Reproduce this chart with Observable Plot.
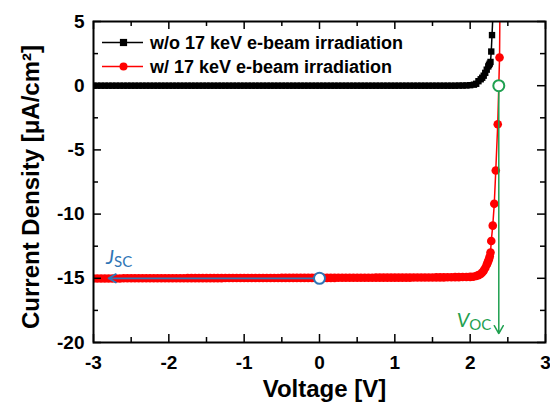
<!DOCTYPE html>
<html><head><meta charset="utf-8">
<script src="https://cdn.jsdelivr.net/npm/d3@7"></script>
<script src="https://cdn.jsdelivr.net/npm/@observablehq/plot@0.6"></script>
<style>body{margin:0;background:#fff} svg{display:block}</style>
</head><body><div id="chart"></div>
<script>
// ---- data ----
const sweepV = [
 -3,-2.95,-2.9,-2.85,-2.8,-2.75,-2.7,-2.65,-2.6,-2.55,
 -2.5,-2.45,-2.4,-2.35,-2.3,-2.25,-2.2,-2.15,-2.1,-2.05,
 -2,-1.95,-1.9,-1.85,-1.8,-1.75,-1.7,-1.65,-1.6,-1.55,
 -1.5,-1.45,-1.4,-1.35,-1.3,-1.25,-1.2,-1.15,-1.1,-1.05,
 -1,-0.95,-0.9,-0.85,-0.8,-0.75,-0.7,-0.65,-0.6,-0.55,
 -0.5,-0.45,-0.4,-0.35,-0.3,-0.25,-0.2,-0.15,-0.1,-0.05,
 0,0.05,0.1,0.15,0.2,0.25,0.3,0.35,0.4,0.45,
 0.5,0.55,0.6,0.65,0.7,0.75,0.8,0.85,0.9,0.95,
 1,1.05,1.1,1.15,1.2,1.25,1.3,1.35,1.4,1.45,
 1.5,1.55,1.6,1.65,1.7,1.75,1.8,1.85,1.9,1.95,
 2
];
const blackFlatJ = [
 0,0,0,0,0,0,0,0,0,0,
 0,0,0,0,0,0,0,0,0,0,
 0,0,0,0,0,0,0,0,0,0,
 0,0,0,0,0,0,0,0,0,0,
 0,0,0,0,0,0,0,0,0,0,
 0,0,0,0,0,0,0,0,0,0,
 0,0,0,0,0,0,0,0,0,0,
 0,0,0,0,0,0,0,0,0,0,
 0,0,0,0,0,0,0,0,0,0,
 0,0,0,0,0,0,0,0.01,0.01,0.02,
 0.04
];
const redFlatJ = [
 -15.02,-15.02,-15.02,-15.01,-15.01,-15.01,-15.01,-15.01,-15.0,-15.0,
 -15.0,-15.0,-15.0,-15.0,-15.0,-15.0,-15.0,-15.0,-15.0,-15.0,
 -15.0,-15.0,-15.0,-15.0,-15.0,-14.99,-14.99,-14.99,-14.99,-14.99,
 -14.99,-14.99,-14.99,-14.99,-14.99,-14.98,-14.98,-14.98,-14.98,-14.98,
 -14.98,-14.98,-14.98,-14.98,-14.98,-14.98,-14.98,-14.98,-14.98,-14.98,
 -14.97,-14.97,-14.97,-14.97,-14.97,-14.97,-14.97,-14.97,-14.97,-14.97,
 -14.97,-14.97,-14.97,-14.97,-14.97,-14.96,-14.96,-14.96,-14.96,-14.96,
 -14.96,-14.96,-14.96,-14.96,-14.96,-14.95,-14.95,-14.95,-14.95,-14.95,
 -14.95,-14.95,-14.95,-14.95,-14.95,-14.94,-14.94,-14.94,-14.94,-14.94,
 -14.94,-14.93,-14.93,-14.93,-14.92,-14.92,-14.91,-14.91,-14.9,-14.9,
 -14.89
];
const blackKneeV = [2.05,2.08,2.11,2.14,2.16,2.18,2.20,2.22,2.24,2.25,2.26,2.27,2.28,2.29,2.31];
const blackKneeJ = [0.08,0.15,0.35,0.5,0.62,0.78,1.0,1.25,1.5,1.62,1.72,1.85,2.66,3.94,6.5];
const redKneeV = [2.04,2.08,2.11,2.14,2.16,2.18,2.20,2.22,2.23,2.24,2.25,2.26,2.27,2.28,2.30,2.32,2.34,2.366,2.38,2.39,2.395];
const redKneeJ = [-14.88,-14.82,-14.75,-14.67,-14.55,-14.4,-14.2,-13.95,-13.8,-13.65,-13.5,-13.3,-13.0,-12.1,-10.9,-9.2,-6.6,-3.0,0.0,2.2,6.0];

const seriesNames = ["w/o 17 keV e-beam irradiation", "w/ 17 keV e-beam irradiation"];
const vocV = 2.38, vocJ = 0, vocArrowJ = -19.3;
const jscV = 0, jscJ = -15, jscArrowV = -2.8;

const xMajor = [-3,-2,-1,0,1,2,3];
const xMinor = [-2.5,-1.5,-0.5,0.5,1.5,2.5];
const yMajor = [-20,-15,-10,-5,0,5];
const yMinor = [-17.5,-12.5,-7.5,-2.5,2.5];

// ---- build tables ----
const black = sweepV.map((v,i)=>({v, j: blackFlatJ[i]})).concat(blackKneeV.map((v,i)=>({v, j: blackKneeJ[i]})));
const red = sweepV.map((v,i)=>({v, j: redFlatJ[i]})).concat(redKneeV.map((v,i)=>({v, j: redKneeJ[i]})));

const W=550, H=410, mL=93, mR=5, mT=21, mB=68;
const pH = H-mT-mB, pW = W-mL-mR;
const font = "'Liberation Sans', Arial, sans-serif";
const RED = "#ff0000", GREEN = "#1fa050", BLUE = "#2e75b6";

const plot = Plot.plot({
  width: W, height: H,
  marginLeft: mL, marginRight: mR, marginTop: mT, marginBottom: mB,
  style: {fontFamily: font, background: "white", color: "black"},
  x: {domain: [-3, 3]},
  y: {domain: [-20, 5]},
  marks: [
    Plot.line(black, {x: "v", y: "j", stroke: "black", strokeWidth: 1.5, clip: true}),
    Plot.dot(black, {x: "v", y: "j", symbol: "square", r: 3.6, fill: "black", clip: true}),
    Plot.line(red, {x: "v", y: "j", stroke: RED, strokeWidth: 1.5, clip: true}),
    Plot.dot(red, {x: "v", y: "j", r: 4.3, fill: RED, clip: true}),
    Plot.arrow([{v: vocV, j: vocJ, e: vocArrowJ}], {x1: "v", y1: "j", x2: "v", y2: "e", stroke: GREEN, strokeWidth: 1.5, insetStart: 5, headLength: 9}),
    Plot.dot([{v: vocV, j: vocJ}], {x: "v", y: "j", r: 5.5, stroke: GREEN, strokeWidth: 2, fill: "white"}),
    Plot.arrow([{v: jscV, j: jscJ, e: jscArrowV}], {x1: "v", y1: "j", x2: "e", y2: "j", stroke: BLUE, strokeWidth: 1.8, insetStart: 5, headLength: 7}),
    Plot.dot([{v: jscV, j: jscJ}], {x: "v", y: "j", r: 5.5, stroke: BLUE, strokeWidth: 2, fill: "white"}),
    // inward ticks
    Plot.tickX(xMajor, {x: d=>d, insetTop: pH-8, stroke: "black", strokeWidth: 1.5}),
    Plot.tickX(xMinor, {x: d=>d, insetTop: pH-5, stroke: "black", strokeWidth: 1.5}),
    Plot.tickX(xMajor, {x: d=>d, insetBottom: pH-8, stroke: "black", strokeWidth: 1.5}),
    Plot.tickX(xMinor, {x: d=>d, insetBottom: pH-5, stroke: "black", strokeWidth: 1.5}),
    Plot.tickY(yMajor, {y: d=>d, insetRight: pW-8, stroke: "black", strokeWidth: 1.5}),
    Plot.tickY(yMinor, {y: d=>d, insetRight: pW-5, stroke: "black", strokeWidth: 1.5}),
    Plot.tickY(yMajor, {y: d=>d, insetLeft: pW-8, stroke: "black", strokeWidth: 1.5}),
    Plot.tickY(yMinor, {y: d=>d, insetLeft: pW-5, stroke: "black", strokeWidth: 1.5}),
    Plot.frame({stroke: "black", strokeWidth: 2}),
    Plot.axisX(xMajor, {tickSize: 0, tickPadding: 13, fontSize: 19, fontWeight: "bold", label: null, tickFormat: d=>String(d)}),
    Plot.axisY(yMajor, {tickSize: 0, tickPadding: 9, fontSize: 19, fontWeight: "bold", label: null, tickFormat: d=>String(d)}),
    Plot.text(["Voltage [V]"], {frameAnchor: "bottom", textAnchor: "middle", lineAnchor: "middle", dx: 5, dy: 47, fontSize: 24, fontWeight: "bold", fill: "black"}),
    Plot.text(["Current Density [μA/cm²]"], {frameAnchor: "left", textAnchor: "middle", lineAnchor: "middle", rotate: -90, dx: -62, dy: 5, fontSize: 24, fontWeight: "bold", fill: "black"})
  ]
});
document.getElementById("chart").appendChild(plot);

// ---- legend & annotation labels ----
const svg = d3.select(plot);
const sx = plot.scale("x"), sy = plot.scale("y");
const leg = svg.append("g");
const legItems = [
  {name: seriesNames[0], color: "black", sym: "square", y: 42.5},
  {name: seriesNames[1], color: RED, sym: "circle", y: 66.5}
];
legItems.forEach(it => {
  leg.append("line").attr("x1", 102).attr("x2", 143).attr("y1", it.y).attr("y2", it.y)
    .attr("stroke", it.color).attr("stroke-width", 1.5);
  if (it.sym === "square") leg.append("rect").attr("x", 123.5-3.6).attr("y", it.y-3.6).attr("width", 7.2).attr("height", 7.2).attr("fill", it.color);
  else leg.append("circle").attr("cx", 123.5).attr("cy", it.y).attr("r", 4).attr("fill", it.color);
  leg.append("text").attr("x", 150).attr("y", it.y).attr("dy", "0.35em").attr("text-anchor", "start")
    .attr("font-family", font).attr("font-weight", "bold").attr("font-size", 18).attr("fill", "black").text(it.name);
});

const annFont = "Lato, 'Open Sans', sans-serif";
const vt = svg.append("text").attr("x", sx.apply(vocV) - 7).attr("y", sy.apply(vocArrowJ) - 6)
  .attr("text-anchor", "end").attr("font-family", annFont).attr("fill", GREEN);
vt.append("tspan").attr("font-style", "italic").attr("font-size", 20).text("V");
vt.append("tspan").attr("font-size", 15).attr("dy", 3).text("OC");

const jt = svg.append("text").attr("x", sx.apply(jscArrowV) - 2).attr("y", sy.apply(jscJ) - 14)
  .attr("text-anchor", "start").attr("font-family", annFont).attr("fill", BLUE);
jt.append("tspan").attr("font-style", "italic").attr("font-size", 20).text("J");
jt.append("tspan").attr("font-size", 15).attr("dy", 3).text("SC");
</script>
</body></html>
